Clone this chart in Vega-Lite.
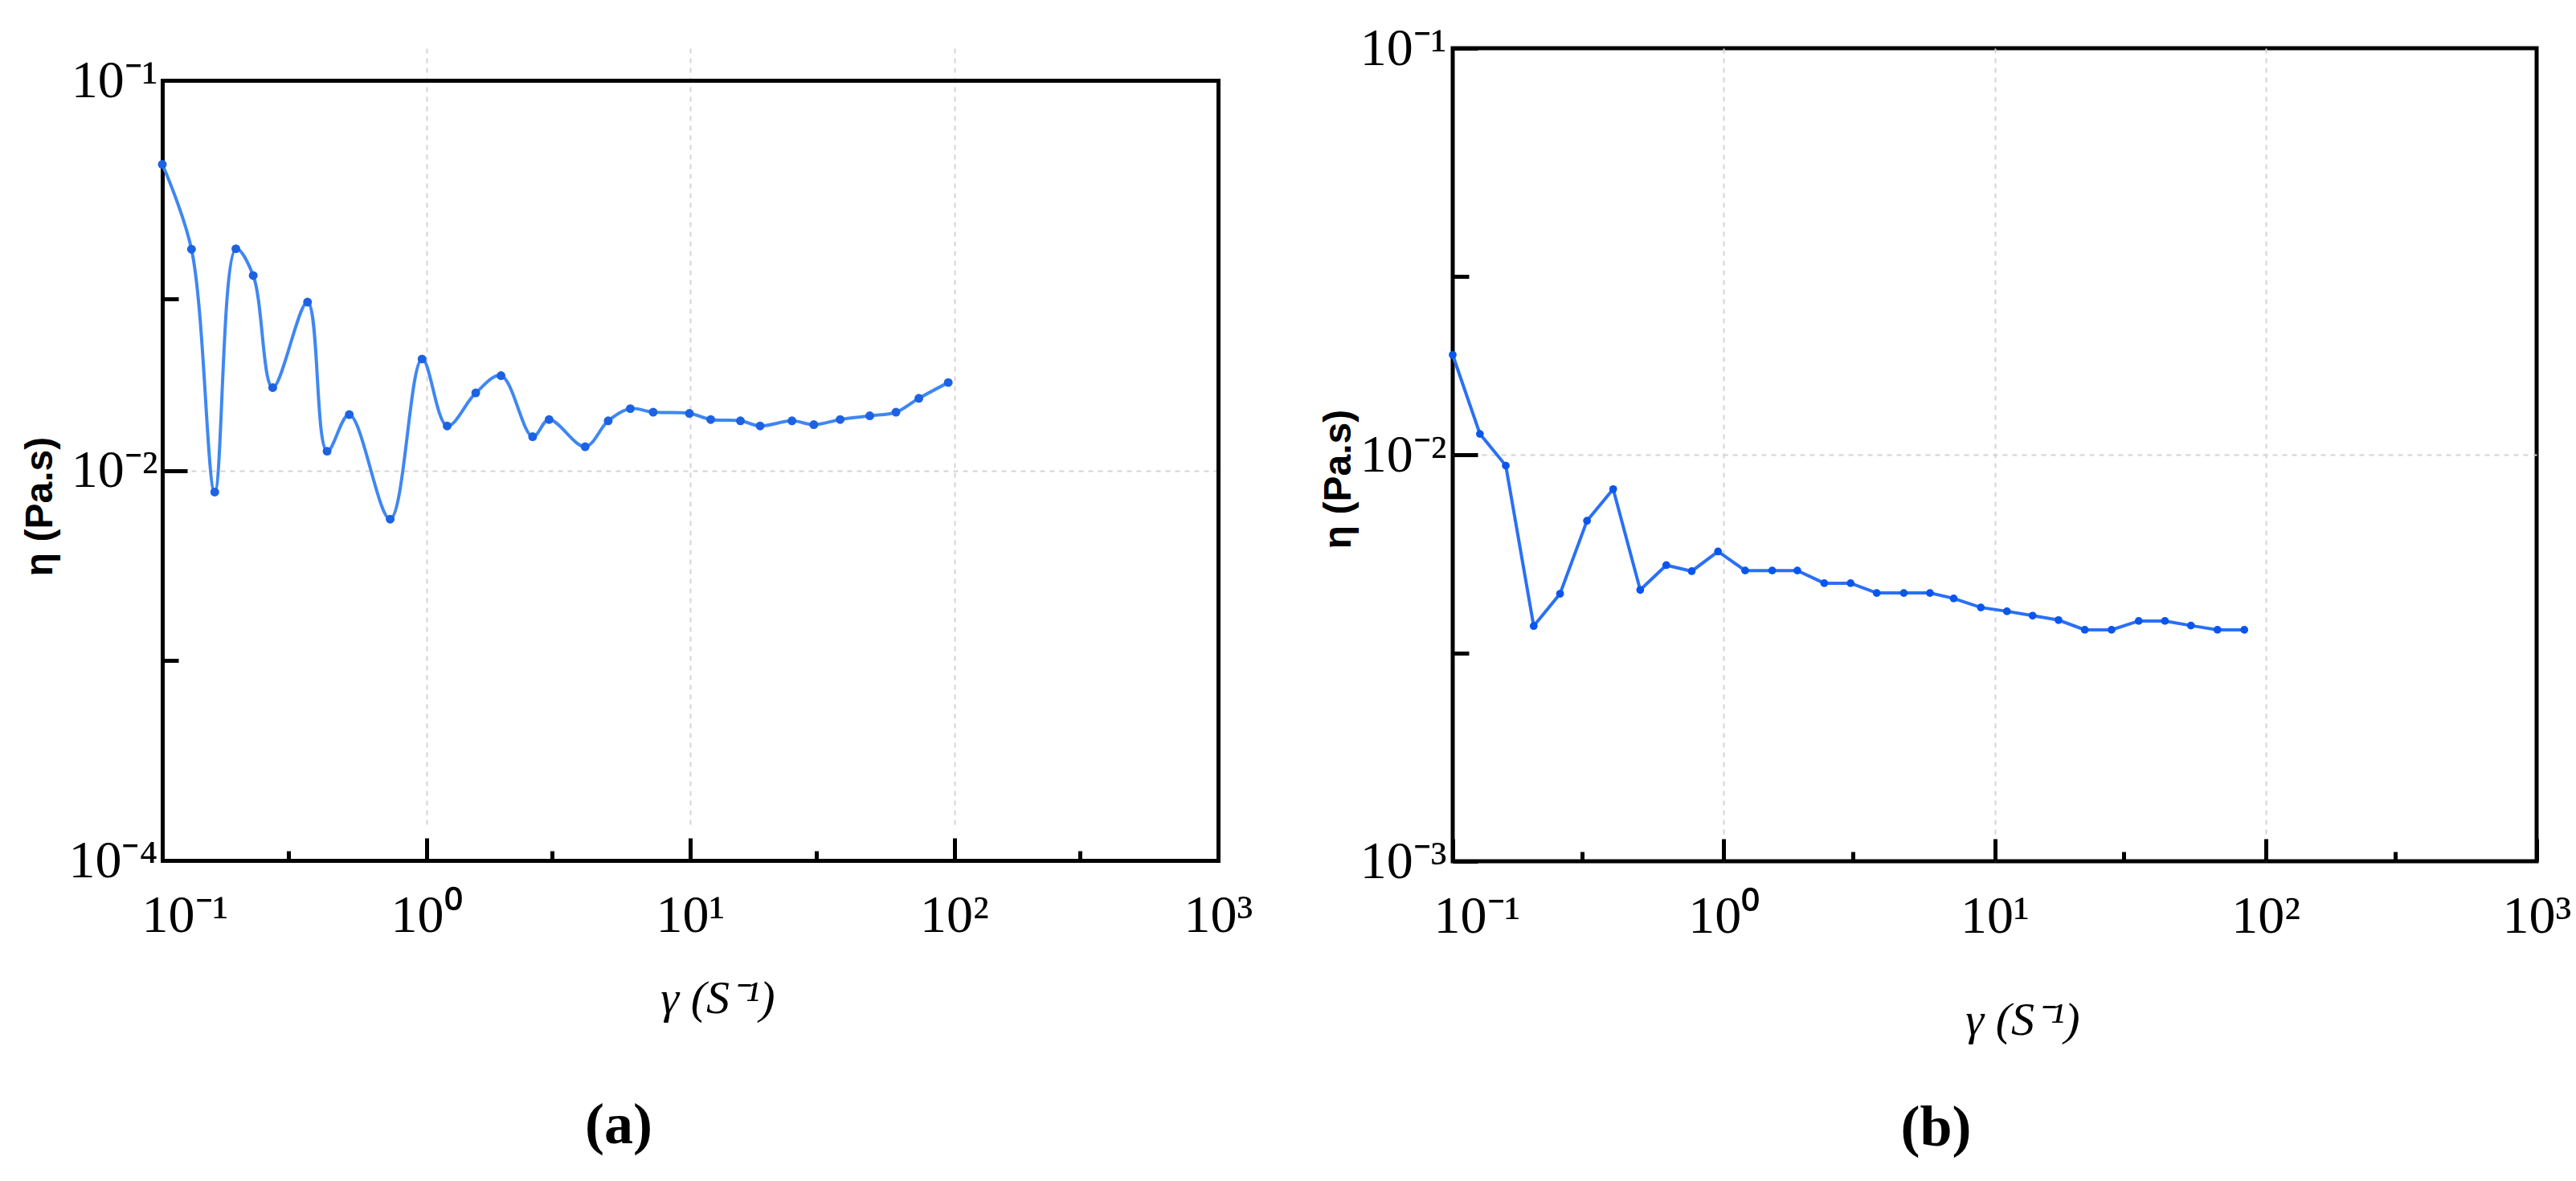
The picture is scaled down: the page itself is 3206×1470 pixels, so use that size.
{
  "$schema": "https://vega.github.io/schema/vega-lite/v6.json",
  "background": "white",
  "padding": {"left": 26, "top": 24, "right": 0, "bottom": 0},
  "spacing": 80,
  "config": {
    "view": {"stroke": "black", "strokeWidth": 5},
    "axis": {
      "labelFont": "Liberation Serif",
      "labelFontSize": 66,
      "labelColor": "black",
      "tickColor": "black",
      "tickWidth": 5,
      "domain": false,
      "domainColor": "black",
      "domainWidth": 5,
      "domainCap": "square",
      "gridColor": "#d4d4d4",
      "gridDash": [6, 6],
      "gridWidth": 2,
      "titleColor": "black"
    },
    "title": {
      "font": "Liberation Serif",
      "fontSize": 72,
      "fontWeight": "bold",
      "color": "black",
      "orient": "bottom",
      "anchor": "middle",
      "frame": "group"
    }
  },
  "datasets": {
    "a": [
      {"shear_rate": 0.1, "viscosity": 0.0609},
      {"shear_rate": 0.129, "viscosity": 0.0369},
      {"shear_rate": 0.158, "viscosity": 0.0088},
      {"shear_rate": 0.19, "viscosity": 0.037},
      {"shear_rate": 0.221, "viscosity": 0.0316},
      {"shear_rate": 0.262, "viscosity": 0.0163},
      {"shear_rate": 0.355, "viscosity": 0.027},
      {"shear_rate": 0.421, "viscosity": 0.0112},
      {"shear_rate": 0.511, "viscosity": 0.0139},
      {"shear_rate": 0.73, "viscosity": 0.0075},
      {"shear_rate": 0.964, "viscosity": 0.0193},
      {"shear_rate": 1.2, "viscosity": 0.013},
      {"shear_rate": 1.54, "viscosity": 0.0158},
      {"shear_rate": 1.92, "viscosity": 0.0175},
      {"shear_rate": 2.53, "viscosity": 0.0122},
      {"shear_rate": 2.92, "viscosity": 0.0135},
      {"shear_rate": 4.0, "viscosity": 0.0115},
      {"shear_rate": 4.89, "viscosity": 0.0134},
      {"shear_rate": 5.93, "viscosity": 0.0144},
      {"shear_rate": 7.24, "viscosity": 0.0141},
      {"shear_rate": 9.93, "viscosity": 0.014},
      {"shear_rate": 11.96, "viscosity": 0.0135},
      {"shear_rate": 15.5, "viscosity": 0.0134},
      {"shear_rate": 18.4, "viscosity": 0.013},
      {"shear_rate": 24.3, "viscosity": 0.0134},
      {"shear_rate": 29.4, "viscosity": 0.0131},
      {"shear_rate": 37, "viscosity": 0.0135},
      {"shear_rate": 47.9, "viscosity": 0.0138},
      {"shear_rate": 60.2, "viscosity": 0.0141},
      {"shear_rate": 73.5, "viscosity": 0.0153},
      {"shear_rate": 95, "viscosity": 0.0168}
    ],
    "b": [
      {"shear_rate": 0.1, "viscosity": 0.0176},
      {"shear_rate": 0.126, "viscosity": 0.01125},
      {"shear_rate": 0.157, "viscosity": 0.0094},
      {"shear_rate": 0.199, "viscosity": 0.00379},
      {"shear_rate": 0.249, "viscosity": 0.00455},
      {"shear_rate": 0.313, "viscosity": 0.00688},
      {"shear_rate": 0.391, "viscosity": 0.00823},
      {"shear_rate": 0.492, "viscosity": 0.00465},
      {"shear_rate": 0.614, "viscosity": 0.00535},
      {"shear_rate": 0.762, "viscosity": 0.00517},
      {"shear_rate": 0.953, "viscosity": 0.00578},
      {"shear_rate": 1.2, "viscosity": 0.00519},
      {"shear_rate": 1.51, "viscosity": 0.00519},
      {"shear_rate": 1.87, "viscosity": 0.00519},
      {"shear_rate": 2.35, "viscosity": 0.00483},
      {"shear_rate": 2.94, "viscosity": 0.00483},
      {"shear_rate": 3.67, "viscosity": 0.00457},
      {"shear_rate": 4.62, "viscosity": 0.00457},
      {"shear_rate": 5.77, "viscosity": 0.00457},
      {"shear_rate": 7.06, "viscosity": 0.00443},
      {"shear_rate": 8.89, "viscosity": 0.00421},
      {"shear_rate": 11.1, "viscosity": 0.00412},
      {"shear_rate": 13.8, "viscosity": 0.00402},
      {"shear_rate": 17.2, "viscosity": 0.00392},
      {"shear_rate": 21.5, "viscosity": 0.00371},
      {"shear_rate": 27, "viscosity": 0.00371},
      {"shear_rate": 34, "viscosity": 0.0039},
      {"shear_rate": 42.5, "viscosity": 0.0039},
      {"shear_rate": 53, "viscosity": 0.0038},
      {"shear_rate": 66.4, "viscosity": 0.00371},
      {"shear_rate": 83.4, "viscosity": 0.00371}
    ]
  },
  "hconcat": [
    {
      "width": 1314,
      "height": 1011,
      "view": {"stroke": null},
      "title": {"text": "(a)", "dx": -89, "offset": 94},
      "data": {"name": "a"},
      "layer": [
        {
          "mark": {"type": "line", "interpolate": "catmull-rom", "color": "#3f87f2", "strokeWidth": 4},
          "encoding": {
            "x": {
              "field": "shear_rate", "type": "quantitative",
              "scale": {"type": "log", "domain": [0.1, 1000], "nice": false},
              "axis": {
                "orient": "bottom",
                "domain": true,
                "values": [0.1, 1, 10, 100, 1000],
                "labelExpr": "datum.value < 0.5 ? '10⁻¹' : datum.value < 5 ? '10⁰' : datum.value < 50 ? '10¹' : datum.value < 500 ? '10²' : '10³'",
                "tickSize": -28,
                "labelPadding": 64,
                "labelAlign": "center",
                "labelBaseline": "top",
                "labelOffset": {"condition": {"test": "datum.value < 0.5", "value": 28}, "value": 0},
                "grid": true,
                "gridColor": {"condition": {"test": "datum.value < 0.5 || datum.value > 500", "value": "transparent"}, "value": "#d4d4d4"},
                "title": "γ (S⁻¹)",
                "titleFont": "Liberation Serif",
                "titleFontStyle": "italic",
                "titleFontWeight": "normal",
                "titleFontSize": 58,
                "titleX": 691,
                "titleY": 172,
                "titleAlign": "center",
                "titleBaseline": "middle"
              }
            },
            "y": {
              "field": "viscosity", "type": "quantitative",
              "scale": {"type": "log", "domain": [0.001, 0.1], "nice": false, "range": [1011, 40]},
              "axis": {
                "orient": "left",
                "domain": true,
                "values": [0.1, 0.01, 0.001],
                "labelExpr": "datum.value > 0.05 ? '10⁻¹' : datum.value > 0.005 ? '10⁻²' : '10⁻⁴'",
                "tickSize": -31,
                "labelPadding": 37,
                "labelBaseline": "middle",
                "grid": true,
                "gridColor": {"condition": {"test": "datum.value > 0.05 || datum.value < 0.002", "value": "transparent"}, "value": "#d4d4d4"},
                "title": "η (Pa.s)",
                "titleFont": "Liberation Sans",
                "titleFontWeight": "bold",
                "titleFontSize": 48,
                "titleAngle": 270,
                "titleX": -152,
                "titleY": 570,
                "titleAlign": "center",
                "titleBaseline": "middle"
              }
            }
          }
        },
        {
          "mark": {"type": "point", "filled": true, "color": "#1c62e3", "size": 120, "opacity": 1},
          "encoding": {
            "x": {
              "field": "shear_rate", "type": "quantitative",
              "scale": {"type": "log", "domain": [0.1, 1000], "nice": false},
              "axis": {"orient": "bottom", "values": [0.3, 3, 30, 300], "tickSize": -12, "labels": false, "grid": false, "title": null}
            },
            "y": {
              "field": "viscosity", "type": "quantitative",
              "scale": {"type": "log", "domain": [0.001, 0.1], "nice": false, "range": [1011, 40]},
              "axis": {"orient": "left", "values": [0.0275, 0.00325], "tickSize": -20, "labels": false, "grid": false, "title": null}
            }
          }
        },
        {
          "mark": {"type": "point", "opacity": 0},
          "encoding": {
            "x": {
              "field": "shear_rate", "type": "quantitative",
              "scale": {"type": "log", "domain": [0.1, 1000], "nice": false},
              "axis": {"orient": "top", "offset": -40, "domain": true, "ticks": false, "labels": false, "grid": false, "title": null}
            },
            "y": {
              "field": "viscosity", "type": "quantitative",
              "scale": {"type": "log", "domain": [0.001, 0.1], "nice": false, "range": [1011, 40]},
              "axis": {"orient": "right", "domain": true, "ticks": false, "labels": false, "grid": false, "title": null}
            }
          }
        }
      ],
      "resolve": {"axis": {"x": "independent", "y": "independent"}}
    },
    {
      "width": 1349,
      "height": 1012,
      "title": {"text": "(b)", "dx": -73, "offset": 70},
      "data": {"name": "b"},
      "layer": [
        {
          "mark": {"type": "line", "color": "#2a70f5", "strokeWidth": 4},
          "encoding": {
            "x": {
              "field": "shear_rate", "type": "quantitative",
              "scale": {"type": "log", "domain": [0.1, 1000], "nice": false},
              "axis": {
                "orient": "bottom",
                "values": [0.1, 1, 10, 100, 1000],
                "labelExpr": "datum.value < 0.5 ? '10⁻¹' : datum.value < 5 ? '10⁰' : datum.value < 50 ? '10¹' : datum.value < 500 ? '10²' : '10³'",
                "tickSize": -28,
                "labelPadding": 64,
                "labelAlign": "center",
                "labelBaseline": "top",
                "labelOffset": {"condition": {"test": "datum.value < 0.5", "value": 30}, "value": 0},
                "grid": true,
                "gridColor": {"condition": {"test": "datum.value < 0.5 || datum.value > 500", "value": "transparent"}, "value": "#d4d4d4"},
                "title": "γ (S⁻¹)",
                "titleFont": "Liberation Serif",
                "titleFontStyle": "italic",
                "titleFontWeight": "normal",
                "titleFontSize": 58,
                "titleX": 709,
                "titleY": 198,
                "titleAlign": "center",
                "titleBaseline": "middle"
              }
            },
            "y": {
              "field": "viscosity", "type": "quantitative",
              "scale": {"type": "log", "domain": [0.001, 0.1], "nice": false},
              "axis": {
                "orient": "left",
                "values": [0.1, 0.01, 0.001],
                "labelExpr": "datum.value > 0.05 ? '10⁻¹' : datum.value > 0.005 ? '10⁻²' : '10⁻³'",
                "tickSize": -31,
                "labelPadding": 39,
                "labelBaseline": "middle",
                "grid": true,
                "gridColor": {"condition": {"test": "datum.value > 0.05 || datum.value < 0.002", "value": "transparent"}, "value": "#d4d4d4"},
                "title": "η (Pa.s)",
                "titleFont": "Liberation Sans",
                "titleFontWeight": "bold",
                "titleFontSize": 48,
                "titleAngle": 270,
                "titleX": -142,
                "titleY": 536,
                "titleAlign": "center",
                "titleBaseline": "middle"
              }
            }
          }
        },
        {
          "mark": {"type": "point", "filled": true, "color": "#0b55ef", "size": 95, "opacity": 1},
          "encoding": {
            "x": {
              "field": "shear_rate", "type": "quantitative",
              "scale": {"type": "log", "domain": [0.1, 1000], "nice": false},
              "axis": {"orient": "bottom", "values": [0.3, 3, 30, 300], "tickSize": -12, "labels": false, "grid": false, "title": null}
            },
            "y": {
              "field": "viscosity", "type": "quantitative",
              "scale": {"type": "log", "domain": [0.001, 0.1], "nice": false},
              "axis": {"orient": "left", "values": [0.0275, 0.00325], "tickSize": -20, "labels": false, "grid": false, "title": null}
            }
          }
        }
      ],
      "resolve": {"axis": {"x": "independent", "y": "independent"}}
    }
  ]
}
